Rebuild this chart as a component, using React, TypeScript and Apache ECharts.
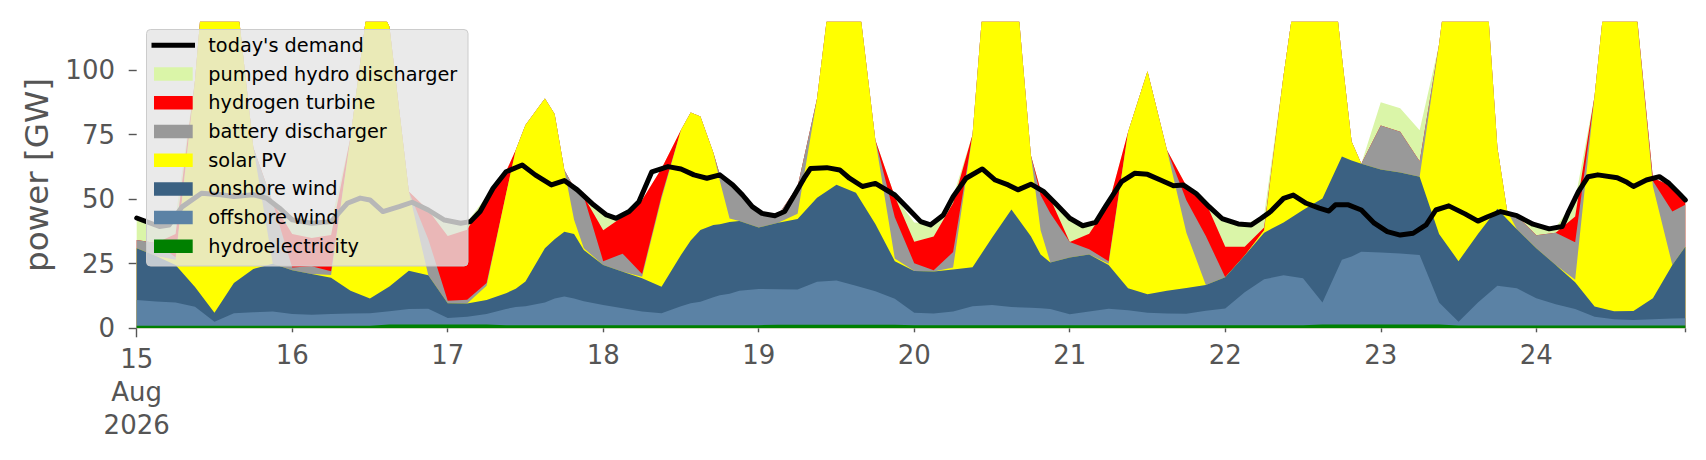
import React, { useEffect, useRef } from "react";
import * as echarts from "echarts";

// hours since 15 Aug 2026 00:00 — one row per day (readings of the stacked supply)
const hours = [
  0, 3, 6, 9, 12, 15, 18, 21,
  24, 27, 30, 33, 36, 39, 42, 45,
  48, 51, 54, 57, 58.5, 60, 63, 64.5, 66, 67.5, 69,
  72, 75, 78, 81, 84, 85.5, 87, 89, 90, 91.5, 93,
  96, 99, 102, 105, 108, 111, 114, 117,
  120, 123, 126, 129, 132, 135, 138, 139.5, 141,
  144, 147, 150, 153, 156, 159, 162, 165,
  168, 171, 174, 177, 180, 183, 186, 187.5, 189,
  192, 195, 198, 201, 204, 207, 210, 211.5, 213,
  216, 219, 222, 225, 228, 231, 234, 237, 239,
];

const hydroelectricity = [
  1.0, 1.0, 1.0, 1.0, 1.0, 1.0, 1.0, 1.0,
  1.0, 1.0, 1.0, 1.0, 1.0, 1.5, 1.5, 1.5,
  1.5, 1.5, 1.5, 1.2, 1.2, 1.2, 1.2, 1.2, 1.2, 1.2, 1.2,
  1.2, 1.2, 1.2, 1.2, 1.2, 1.2, 1.2, 1.2, 1.2, 1.2, 1.2,
  1.2, 1.4, 1.4, 1.4, 1.4, 1.4, 1.4, 1.4,
  1.2, 1.2, 1.2, 1.2, 1.2, 1.2, 1.2, 1.2, 1.2,
  1.2, 1.2, 1.2, 1.2, 1.2, 1.2, 1.2, 1.2,
  1.2, 1.2, 1.2, 1.2, 1.2, 1.5, 1.5, 1.5, 1.5,
  1.5, 1.5, 1.5, 1.5, 1.1, 1.1, 1.1, 1.1, 1.1,
  1.1, 1.1, 1.1, 1.1, 1.1, 1.1, 1.1, 1.1, 1.1,
];

const offshoreWind = [
  10.0, 9.4, 9.0, 7.3, 1.5, 4.8, 5.2, 5.5,
  4.5, 4.2, 4.5, 4.7, 4.8, 5.1, 6.0, 6.1,
  2.5, 3.0, 4.0, 6.3, 7.0, 7.3, 8.8, 10.3, 11.1, 10.3, 9.3,
  7.8, 6.6, 5.3, 4.6, 7.3, 8.5, 9.1, 10.8, 11.6, 12.2, 13.3,
  14.0, 13.7, 13.6, 16.6, 17.1, 15.1, 12.9, 10.0,
  4.8, 4.5, 5.3, 7.3, 7.8, 7.0, 6.8, 6.6, 6.3,
  4.2, 5.3, 6.4, 5.8, 4.8, 4.5, 4.4, 5.6,
  6.5, 12.8, 17.8, 19.3, 18.2, 8.5, 25.0, 26.3, 28.1,
  27.8, 27.5, 26.9, 8.5, 1.4, 8.9, 15.4, 14.9, 14.4,
  10.5, 8.2, 6.4, 3.4, 2.4, 2.1, 2.4, 2.7, 2.8,
];

const onshoreWind = [
  20, 17.6, 14.5, 7.7, 3.5, 11.7, 16.8, 18.5,
  17, 15.8, 14.1, 8.8, 5.7, 9.6, 14.8, 12.9,
  5.7, 5.1, 5.5, 6.1, 7.1, 9.6, 21, 23, 25.1, 25, 19.8,
  15.5, 14.1, 12.9, 10.3, 19.9, 24.3, 27.8, 28, 27.5, 27.8, 27,
  23.8, 25.8, 27.3, 32.5, 37.1, 36, 26.1, 14.6,
  16.2, 16.3, 16.3, 15.1, 26.1, 37.8, 27.6, 20.8, 18,
  22, 22.1, 16.9, 8.5, 7.2, 8.8, 10, 10,
  12.1, 14.2, 18, 20.5, 26.4, 40.3, 40, 37.2, 34.1,
  32.2, 31.3, 30.3, 26.5, 23.5, 26.5, 29.8, 26.2, 22.8,
  19.4, 15.2, 10.3, 3.9, 3.1, 3.5, 8.1, 20.7, 27.7,
];

const solarPV = [
  0, 0, 2, 80, 179, 120.5, 47, 0,
  0, 0, 1, 59.5, 120.5, 100.6, 30.7, 0,
  0, 0, 5.5, 38.4, 53.7, 60.6, 58, 48.5, 23.9, 5.5, 0.7,
  0, 0, 0.6, 34.2, 48.4, 49.5, 43.9, 28, 16.7, 1.3, 0,
  0, 0, 2, 38.5, 94.4, 83.5, 32.5, 1,
  0, 0, 0.7, 51.4, 133.9, 108, 31.4, 9.4, 0,
  0, 0, 0.5, 60.5, 86.3, 54.5, 21.4, 0,
  0, 0, 1, 57, 104.7, 123.7, 38.7, 7.3, 0,
  0, 0, 0, 73.5, 144, 143.5, 23.7, 3.3, 0,
  0, 0, 1, 81.6, 155.9, 127.8, 43.4, 0, 0,
];

const batteryDischarger = [
  3.2, 5, 1, 0, 0, 0, 0, 23.7,
  1, 3, 1.5, 0, 0, 0, 0, 14,
  1, 1.5, 1, 0, 0, 0, 0, 0, 0, 12.5, 20,
  1.5, 7, 1, 1, 0, 0, 0, 0, 2.4, 14, 11.5,
  5.8, 3, 10.6, 0, 0, 0, 0, 16,
  3, 0.5, 6, 0, 0, 0, 0, 13.5, 19,
  6, 2, 1, 0, 0, 0, 12.6, 18.9,
  0, 0, 0, 0, 0, 0, 0, 0, 0,
  17, 15.8, 6, 0, 0, 0, 0, 0, 5.2,
  5, 12.5, 14.5, 0, 0, 0, 2, 20.7, 16.2,
];

const hydrogenTurbine = [
  0, 0, 9, 0, 0, 0, 0, 0,
  13, 11, 14, 0, 0, 0, 0, 11.2,
  25, 27.1, 33.5, 8.7, 0, 0, 0, 0, 0, 0, 0,
  12, 14.3, 28.7, 10.6, 0, 0, 0, 0, 0, 0, 0,
  0, 0, 0, 0, 0, 0, 0, 8,
  8.3, 13, 19, 0, 0, 0, 0, 2, 5.7,
  0, 6, 22, 0, 0, 0, 5.5, 13,
  11.8, 3.4, 1, 0, 0, 0, 0, 0, 0,
  0, 0, 0, 0, 0, 0, 0, 0, 0,
  0, 0, 10, 0, 0, 0, 1.3, 9.7, 1.9,
];

const pumpedHydroDischarger = [
  8.5, 6.5, 6.5, 0, 0, 0, 0, 0,
  5.5, 5.7, 5.2, 0, 0, 0, 0, 0,
  6, 3, 0, 0, 0, 0, 0, 0, 0, 0, 0,
  5.9, 0, 0, 0, 0, 0, 0, 0, 0, 0, 0,
  0, 0, 0, 0, 0, 0, 0, 0,
  7.5, 5, 2.5, 0, 0, 0, 0, 0, 0,
  9.3, 3.3, 0, 0, 0, 0, 0, 0,
  10.6, 8.4, 5, 0, 0, 0, 0, 0, 0,
  9, 9.1, 12, 0, 0, 0, 0, 0, 0,
  4, 2, 6.5, 0, 0, 0, 0, 0, 0,
];

// demand line readings (hours, GW)
const demandHours = [
  0, 3.5, 5, 7, 10, 13, 15, 18, 20, 22, 24, 27, 30, 32.5, 34.5, 36, 38, 40.5, 42.5, 45,
  47.5, 50, 51.5, 53, 55, 57, 59.5, 61.5, 64, 66, 68, 70.5, 72.5, 74, 76, 77.5, 79.5, 82, 84, 86,
  88, 90, 92, 93.5, 95, 96.5, 98.5, 100, 101.5, 103, 104, 106.5, 108.5, 110, 112, 114, 117, 119, 121, 122.5,
  124.5, 126, 128, 130.5, 132.5, 134.5, 136, 138, 140, 142, 144, 146, 148, 149.5, 152, 154, 156, 158, 160, 161.5,
  163.5, 165.5, 167.5, 170, 172, 173.5, 175, 177, 178.5, 180.5, 182.5, 184, 185, 187, 189, 191, 193, 195, 197, 199,
  200.5, 202.5, 205, 207, 208.5, 210.5, 213, 215.5, 218, 220, 221, 222.5, 224, 225.5, 228.5, 230, 231, 233, 235, 236.5,
  238, 239,
];
const demandGW = [
  42.7, 39.4, 40, 47, 52.3, 51.7, 51, 51.7, 50.4, 46.6, 42, 40.7, 41.3, 48.4, 50.4, 49.7, 45.2, 47.1, 48.8, 45.8,
  41.9, 40.7, 41.3, 45.2, 54.2, 60.6, 63.2, 59.4, 55.5, 57.2, 53.6, 47.8, 43.9, 42.6, 45.2, 49, 60.6, 62.6, 61.7, 59.4,
  58.1, 59.4, 55.5, 51.6, 47.1, 44.5, 43.6, 45.2, 51.6, 58.1, 61.9, 62.2, 61.3, 58.1, 54.9, 56.1, 51.6, 46.5, 41.3, 40,
  43.9, 51, 58.1, 61.7, 57.4, 55.5, 53.6, 55.8, 52.9, 47.8, 42.6, 39.7, 41, 47.1, 56.8, 60, 59.6, 57.4, 55.2, 55.5,
  52.2, 47.1, 42.5, 40.4, 40, 42.5, 45.2, 50.3, 51.6, 48.4, 46.5, 45.4, 47.8, 47.8, 45.8, 40.7, 37.4, 36.1, 36.8, 40,
  45.8, 47.4, 44.3, 41.5, 43.2, 45.2, 43.6, 40.3, 38.5, 39.4, 45.2, 52.9, 58.7, 59.4, 58.3, 56.5, 54.9, 57.4, 58.7, 56.1,
  52.3, 49.7,
];

const dayTickHours = [24, 48, 72, 96, 120, 144, 168, 192, 216];
const dayTickLabels = ["16", "17", "18", "19", "20", "21", "22", "23", "24"];
const firstTickLabel = "15\nAug\n2026";
const yTickValues = [0, 25, 50, 75, 100];

const FONT = "DejaVu Sans";
const GREY = "#555555";

// bottom-to-top stacking order
const stackDefs = [
  { name: "hydroelectricity", data: hydroelectricity, color: "#008000" },
  { name: "offshore wind", data: offshoreWind, color: "#5b82a5" },
  { name: "onshore wind", data: onshoreWind, color: "#3b6182" },
  { name: "solar PV", data: solarPV, color: "#ffff00" },
  { name: "battery discharger", data: batteryDischarger, color: "#999999" },
  { name: "hydrogen turbine", data: hydrogenTurbine, color: "#ff0000" },
  { name: "pumped hydro discharger", data: pumpedHydroDischarger, color: "#daf5a8" },
];

const legendOrder = [
  "today's demand",
  "pumped hydro discharger",
  "hydrogen turbine",
  "battery discharger",
  "solar PV",
  "onshore wind",
  "offshore wind",
  "hydroelectricity",
];

function buildLegend() {
  const els: any[] = [];
  els.push({
    type: "rect",
    z: 100,
    shape: { x: 146.5, y: 29.5, width: 321.5, height: 236.5, r: 4 },
    style: { fill: "rgba(229,229,229,0.8)", stroke: "#cccccc", lineWidth: 1 },
  });
  legendOrder.forEach((name, i) => {
    const yc = 45.3 + 28.72 * i;
    if (i === 0) {
      els.push({
        type: "line",
        z: 101,
        shape: { x1: 151.5, y1: yc, x2: 195, y2: yc },
        style: { stroke: "#000000", lineWidth: 5 },
      });
    } else {
      const def = stackDefs.find((d) => d.name === name)!;
      els.push({
        type: "rect",
        z: 101,
        shape: { x: 154, y: yc - 6.75, width: 38.7, height: 13.5 },
        style: { fill: def.color },
      });
    }
    els.push({
      type: "text",
      z: 101,
      x: 208.3,
      y: yc,
      style: {
        text: name,
        fill: "#000000",
        fontSize: 19.3,
        fontFamily: FONT,
        verticalAlign: "middle",
        align: "left",
      },
    });
  });
  return els;
}

export default function App() {
  const ref = useRef<HTMLDivElement>(null);
  useEffect(() => {
    if (!ref.current) return;
    const chart = echarts.init(ref.current, undefined, { renderer: "svg" });

    // cumulative tops of the stack; each band is painted from 0 up to its top,
    // topmost band first, so the lower bands cover the overlaps (same look as a stack)
    const cumulative: number[][] = [];
    stackDefs.forEach((d, k) => {
      cumulative.push(d.data.map((v, i) => (k === 0 ? 0 : cumulative[k - 1][i]) + v));
    });
    const series: any[] = [];
    for (let k = stackDefs.length - 1; k >= 0; k--) {
      const d = stackDefs[k];
      series.push({
        type: "line",
        name: d.name,
        data: hours.map((h, i) => [h, cumulative[k][i]]),
        showSymbol: false,
        symbol: "none",
        lineStyle: { width: 0, opacity: 0 },
        itemStyle: { color: d.color },
        areaStyle: { color: d.color, opacity: 1, origin: "start" },
        silent: true,
        z: 2,
      });
    }
    series.push({
      type: "line",
      name: "today's demand",
      data: demandHours.map((h, i) => [h, demandGW[i]]),
      showSymbol: false,
      symbol: "none",
      lineStyle: { color: "#000000", width: 5, join: "round", cap: "round" },
      itemStyle: { color: "#000000" },
      silent: true,
      z: 5,
    });
    chart.setOption({
      animation: false,
      backgroundColor: "#ffffff",
      grid: { left: 136.7, right: 20.7, top: 21.7, bottom: 131.7 },
      xAxis: [
        {
          type: "value",
          min: 0,
          max: 239,
          axisLine: { show: false },
          splitLine: { show: false },
          axisTick: {
            show: true,
            length: 4,
            customValues: [...dayTickHours, 239],
            lineStyle: { color: GREY, width: 1.4 },
          },
          axisLabel: {
            show: true,
            customValues: dayTickHours,
            formatter: (v: number) => dayTickLabels[dayTickHours.indexOf(Math.round(v))] ?? "",
            fontSize: 26,
            lineHeight: 33,
            fontFamily: FONT,
            color: GREY,
            margin: 10,
          },
        },
        {
          type: "value",
          min: 0,
          max: 239,
          position: "bottom",
          axisLine: { show: false },
          splitLine: { show: false },
          axisTick: {
            show: true,
            length: 9,
            customValues: [0],
            lineStyle: { color: GREY, width: 1.4 },
          },
          axisLabel: {
            show: true,
            customValues: [0],
            formatter: () => firstTickLabel,
            fontSize: 26,
            lineHeight: 33,
            fontFamily: FONT,
            color: GREY,
            margin: 14,
          },
        },
      ],
      yAxis: {
        type: "value",
        min: 0,
        max: 118.7,
        name: "power [GW]",
        nameLocation: "middle",
        nameRotate: 90,
        nameGap: 83,
        nameTextStyle: { fontSize: 32.6, fontFamily: FONT, color: GREY },
        axisLine: { show: false },
        splitLine: { show: false },
        axisTick: {
          show: true,
          length: 8,
          customValues: yTickValues,
          lineStyle: { color: GREY, width: 1.4 },
        },
        axisLabel: {
          show: true,
          customValues: yTickValues,
          fontSize: 26,
          fontFamily: FONT,
          color: GREY,
          margin: 21.7,
        },
      },
      series,
      graphic: { elements: buildLegend() },
    });
    return () => chart.dispose();
  }, []);
  return (
    <div
      ref={ref}
      style={{ position: "fixed", left: 0, top: 0, width: 1706, height: 460, background: "#fff" }}
    />
  );
}
